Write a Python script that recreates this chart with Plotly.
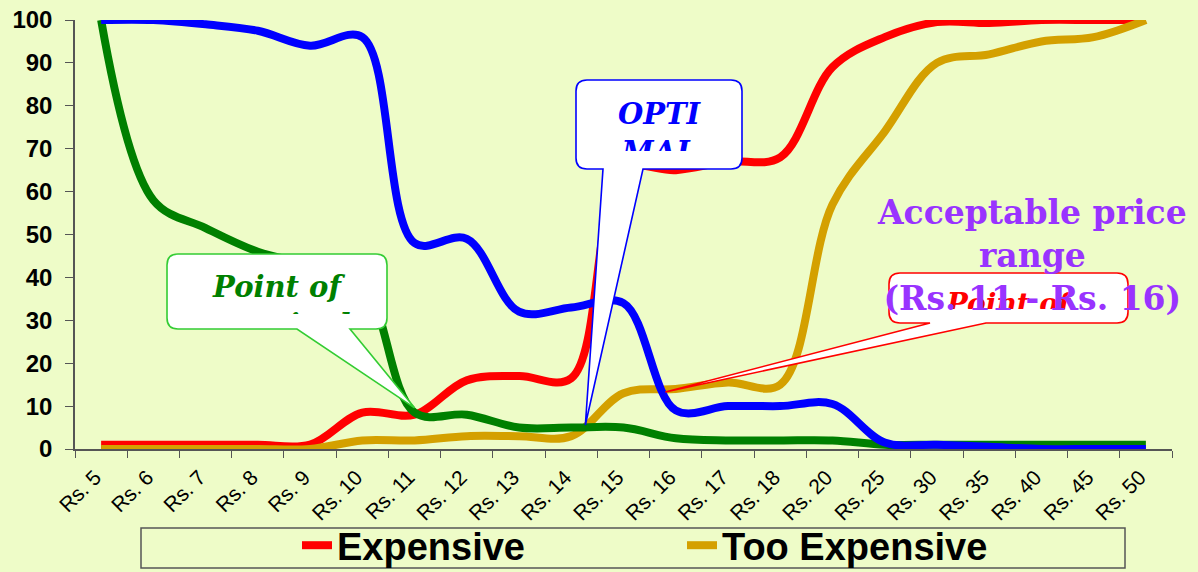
import plotly.graph_objects as go

# Price points surveyed
prices = ["Rs. 5", "Rs. 6", "Rs. 7", "Rs. 8", "Rs. 9", "Rs. 10", "Rs. 11", "Rs. 12",
          "Rs. 13", "Rs. 14", "Rs. 15", "Rs. 16", "Rs. 17", "Rs. 18", "Rs. 20",
          "Rs. 25", "Rs. 30", "Rs. 35", "Rs. 40", "Rs. 45", "Rs. 50"]

# Cumulative % of respondents per price perception
expensive = [1, 1, 1, 1, 1, 8.5, 8, 16, 17, 16.5, 65, 65, 67, 68, 89, 96, 99.5, 99.3, 100, 100, 100]
too_expensive = [0, 0, 0, 0, 0, 2, 2, 3, 3, 3, 13, 14, 15.5, 15, 57, 74, 90, 92, 95, 96, 100]
too_cheap = [100, 58, 51.5, 46, 43, 39, 8.5, 8, 5, 5, 5, 2.5, 2, 2, 2, 1, 1, 1, 1, 1, 1]
cheap = [100, 100, 99, 97.5, 94, 96, 48, 49, 32, 33, 34, 9, 10, 10, 10.5, 1.5, 1, 0.5, 0, 0, 0]

BG = "#EEFCC8"
W, H = 1198, 572
ML, MR, MT, MB = 75, 26, 20, 123
PW, PH = W - ML - MR, H - MT - MB
N = len(prices)


def to_paper(px, py):
    return (px - ML) / PW, (MT + PH - py) / PH


def data_px(idx, val):
    # pixel position of a category index / value pair
    return ML + (idx + 0.5) * PW / N, MT + PH - val / 100 * PH


def callout_path(x0, y0, x1, y1, bx0, bx1, tip, r=11):
    # rounded box with a wedge from its bottom edge to the tip
    pts = [("M", [(x0 + r, y0)]), ("L", [(x1 - r, y0)]), ("Q", [(x1, y0), (x1, y0 + r)]),
           ("L", [(x1, y1 - r)]), ("Q", [(x1, y1), (x1 - r, y1)]), ("L", [(bx1, y1)]),
           ("L", [tip]), ("L", [(bx0, y1)]), ("L", [(x0 + r, y1)]),
           ("Q", [(x0, y1), (x0, y1 - r)]), ("L", [(x0, y0 + r)]),
           ("Q", [(x0, y0), (x0 + r, y0)])]
    out = []
    for cmd, ps in pts:
        coords = " ".join("%.5f,%.5f" % to_paper(*p) for p in ps)
        out.append(cmd + coords)
    return " ".join(out) + " Z"


fig = go.Figure()
series = [
    ("Expensive", expensive, "#FF0000", True),
    ("Too Expensive", too_expensive, "#D4A000", True),
    ("Too Cheap", too_cheap, "#008000", False),
    ("Cheap", cheap, "#0000FF", False),
]
for name, vals, color, show in series:
    fig.add_trace(go.Scatter(
        x=prices, y=vals, name=name, mode="lines", showlegend=show,
        line=dict(color=color, width=8, shape="spline", smoothing=1),
    ))

# Callouts pointing at the curve intersections
callouts = [
    dict(box=(167, 254, 387, 329), base=(297, 350), tip=(6.0, 9.6),
         line="#33CC33", color="#008000", text="Point of<br>marginal<br>cheapness",
         txt_box=(270, 314), size=29),
    dict(box=(576, 80, 742, 169), base=(603, 643), tip=(9.27, 5.6),
         line="#0000FF", color="#0000FF", text="OPTI<br>MAL<br>PRICE",
         txt_box=(97, 151), size=29),
    dict(box=(889, 273, 1128, 323), base=(930, 986), tip=(10.8, 13.3),
         line="#FF0000", color="#FF0000", text="Point of<br>marginal<br>expensiveness",
         txt_box=(287, 309), size=28),
]
shapes = []
annotations = []
for c in callouts:
    x0, y0, x1, y1 = c["box"]
    tip = data_px(*c["tip"])
    shapes.append(dict(type="path", xref="paper", yref="paper", layer="above",
                       path=callout_path(x0, y0, x1, y1, c["base"][0], c["base"][1], tip),
                       fillcolor="white", line=dict(color=c["line"], width=1.6)))
    ty0, ty1 = c["txt_box"]
    cx, cy = to_paper((x0 + x1) / 2, (ty0 + ty1) / 2)
    annotations.append(dict(
        xref="paper", yref="paper", x=cx, y=cy, xanchor="center", yanchor="middle",
        text="<b><i>" + c["text"] + "</i></b>", showarrow=False,
        width=x1 - x0 - 10, height=ty1 - ty0, valign="top", borderpad=0,
        font=dict(family="DejaVu Serif", size=c["size"], color=c["color"]),
    ))

px_, py_ = to_paper(1032, 255)
annotations.append(dict(
    xref="paper", yref="paper", x=px_, y=py_, xanchor="center", yanchor="middle",
    text="<b>Acceptable price<br>range<br>(Rs. 11 - Rs. 16)</b>", showarrow=False,
    font=dict(family="DejaVu Serif", size=33, color="#9933FF"),
))

# legend frame
lx0, ly0 = to_paper(141, 528)
lx1, ly1 = to_paper(1125, 568)
shapes.append(dict(type="rect", xref="paper", yref="paper", x0=lx0, y0=ly0, x1=lx1, y1=ly1,
                   line=dict(color="#555555", width=1.5), fillcolor="rgba(0,0,0,0)"))

fig.update_layout(
    width=W, height=H,
    margin=dict(l=ML, r=MR, t=MT, b=MB, autoexpand=False),
    paper_bgcolor=BG, plot_bgcolor=BG,
    showlegend=True,
    legend=dict(orientation="h", xref="container", yref="container",
                x=297 / W, y=1 - 514 / H, xanchor="left", yanchor="top",
                font=dict(family="Arial", size=38, color="black", weight="bold"),
                entrywidth=340, bgcolor="rgba(0,0,0,0)", borderwidth=0,
                itemclick=False),
    shapes=shapes,
    annotations=annotations,
    xaxis=dict(type="category", range=[-0.5, N - 0.5], tickson="boundaries",
               ticks="outside", ticklen=7, tickcolor="#555555", showline=True,
               linecolor="#555555", linewidth=1.5, showgrid=False, tickangle=-45,
               ticklabelstandoff=6, ticklabelshift=-6, automargin=False, zeroline=False,
               tickfont=dict(family="Arial", size=21, color="black")),
    yaxis=dict(range=[0, 100], dtick=10, ticks="outside", ticklen=8, tickcolor="#555555",
               showline=True, linecolor="#555555", linewidth=1.5, showgrid=False,
               zeroline=False, ticklabelstandoff=8, automargin=False,
               tickfont=dict(family="Arial", size=24, color="black", weight="bold")),
)

fig.write_html("out.html")
